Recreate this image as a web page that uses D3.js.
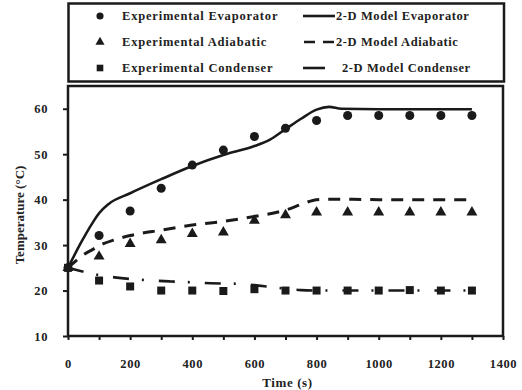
<!DOCTYPE html>
<html>
<head>
<meta charset="utf-8">
<script src="https://cdn.jsdelivr.net/npm/d3@7/dist/d3.min.js"></script>
<style>
  html, body { margin: 0; padding: 0; background: #fff; }
  svg { display: block; }
  text { font-family: "Liberation Serif", "Times New Roman", serif; font-weight: bold; fill: #222; }
</style>
</head>
<body>
<svg id="chart" width="522" height="390"></svg>
<script>
// Measured times (s)
const expTime = [0, 100, 200, 300, 400, 500, 600, 700, 800, 900, 1000, 1100, 1200, 1300];
// Experimental temperatures (°C)
const expEvaporator = [25, 32.1, 37.5, 42.5, 47.6, 50.9, 53.9, 55.7, 57.4, 58.5, 58.5, 58.5, 58.5, 58.5];
const expAdiabatic  = [25, 27.5, 30.3, 31.1, 32.5, 32.8, 35.4, 36.6, 37.2, 37.2, 37.2, 37.2, 37.2, 37.2];
const expCondenser  = [25, 22.2, 20.9, 20.0, 20.0, 19.9, 20.3, 20.0, 20.0, 20.0, 20.0, 20.1, 20.0, 20.0];

// 2-D model curves (time, temperature)
const modelEvapTime = [0, 40, 80, 100, 130, 200, 300, 400, 500, 600, 650, 700, 750, 800, 840, 880, 1000, 1300];
const modelEvapTemp = [25, 30.3, 35, 37, 39, 41.4, 44.5, 47.4, 49.8, 51.8, 53.2, 55.5, 57.8, 59.8, 60.4, 60.0, 59.9, 59.9];
const modelAdiaTime = [0, 30, 55, 76, 114, 146, 200, 300, 400, 500, 600, 700, 760, 800, 850, 1000, 1300];
const modelAdiaTemp = [25, 26.8, 28.1, 28.9, 30.3, 31.1, 32.1, 33.3, 34.4, 35.2, 36.3, 37.7, 39.2, 40.0, 40.1, 40.0, 40.0];
const modelCondTime = [0, 40, 70, 100, 150, 250, 330, 400, 460, 545, 600, 650, 700, 750, 800, 1000, 1300];
const modelCondTemp = [25, 24.3, 23.8, 23.4, 22.9, 22.3, 22.0, 21.8, 21.6, 21.5, 21.2, 20.8, 20.4, 20.1, 20.0, 20.0, 20.0];

// Axis ticks
const xTickValues = [0, 200, 400, 600, 800, 1000, 1200, 1400];
const xMinorTicks = [100, 300, 500, 700, 900, 1100, 1300];
const yTickValues = [10, 20, 30, 40, 50, 60];

// Legend entries
const legendMarkers = ["Experimental Evaporator", "Experimental Adiabatic", "Experimental Condenser"];
const legendLines = ["2-D Model Evaporator", "2-D Model Adiabatic", "2-D Model Condenser"];

const svg = d3.select("#chart");
const ink = "#1a1a1a";

const plot = { left: 68, right: 503, top: 86, bottom: 336 };
const x = d3.scaleLinear().domain([0, 1400]).range([plot.left, plot.right]);
const y = d3.scaleLinear().domain([10, 65]).range([plot.bottom, plot.top]);

// Legend box
svg.append("rect")
  .attr("x", 68.5).attr("y", 3.5).attr("width", 435.5).attr("height", 78)
  .attr("fill", "#fff").attr("stroke", ink).attr("stroke-width", 2.5);

// Plot frame
svg.append("rect")
  .attr("x", plot.left).attr("y", plot.top)
  .attr("width", plot.right - plot.left).attr("height", plot.bottom - plot.top)
  .attr("fill", "none").attr("stroke", ink).attr("stroke-width", 2.5);

// Axes
const xAxis = d3.axisBottom(x).tickValues(xTickValues).tickSize(4).tickPadding(19).tickFormat(d3.format("d"));
svg.append("g").attr("transform", `translate(0,${plot.bottom})`).call(xAxis);
svg.append("g").attr("transform", `translate(0,${plot.bottom})`)
  .call(d3.axisBottom(x).tickValues(xMinorTicks).tickSize(4).tickFormat(""));

const yAxis = d3.axisLeft(y).tickValues(yTickValues).tickSize(5).tickPadding(15).tickFormat(d3.format("d"));
svg.append("g").attr("transform", `translate(${plot.left},0)`).call(yAxis);

svg.selectAll(".domain").remove();
svg.selectAll(".tick line").attr("stroke", ink).attr("stroke-width", 2);
svg.selectAll(".tick text").attr("font-size", 12.5).attr("fill", "#444")
  .style("letter-spacing", "0.6px")
  .style("font-family", "Liberation Serif, serif").style("font-weight", "bold");

// Axis titles
svg.append("text")
  .attr("x", (plot.left + plot.right) / 2 + 2).attr("y", 387)
  .attr("text-anchor", "middle").attr("font-size", 13).style("letter-spacing", "0.6px").text("Time (s)");
svg.append("text")
  .attr("transform", `translate(24,215) rotate(-90)`)
  .attr("text-anchor", "middle").attr("font-size", 13).text("Temperature (°C)");

// Model curves
const line = d3.line().curve(d3.curveMonotoneX).x(d => x(d[0])).y(d => y(d[1]));
const models = [
  { t: modelEvapTime, v: modelEvapTemp, dash: null, w: 2.6 },
  { t: modelAdiaTime, v: modelAdiaTemp, dash: "12,9", w: 3 },
  { t: modelCondTime, v: modelCondTemp, dash: "16,13,2,15", w: 2.6 }
];
models.forEach(m => {
  svg.append("path")
    .datum(d3.zip(m.t, m.v))
    .attr("d", line)
    .attr("fill", "none")
    .attr("stroke", ink)
    .attr("stroke-width", m.w)
    .attr("stroke-dasharray", m.dash);
});

// Experimental markers
const circleSym = d3.symbol().type(d3.symbolCircle).size(64);
const triSym = d3.symbol().type(d3.symbolTriangle).size(52);
const sqSym = d3.symbol().type(d3.symbolSquare).size(64);
const series = [
  { v: expEvaporator, sym: circleSym },
  { v: expAdiabatic, sym: triSym },
  { v: expCondenser, sym: sqSym }
];
series.forEach(s => {
  svg.append("g").selectAll("path")
    .data(d3.zip(expTime, s.v))
    .join("path")
    .attr("d", s.sym)
    .attr("transform", d => `translate(${x(d[0])},${y(d[1])})`)
    .attr("fill", ink);
});

// Legend
const rows = [16, 42, 68];
const legSyms = [d3.symbol().type(d3.symbolCircle).size(40), d3.symbol().type(d3.symbolTriangle).size(36), d3.symbol().type(d3.symbolSquare).size(44)];
rows.forEach((ry, i) => {
  svg.append("path").attr("d", legSyms[i]).attr("transform", `translate(100,${ry})`).attr("fill", ink);
  svg.append("text").attr("x", 122).attr("y", ry + 4).attr("font-size", 12.5)
    .style("letter-spacing", "0.8px").text(legendMarkers[i]);
});
const legLine = [
  { x1: 303, x2: 335, dash: null, tx: 336 },
  { x1: 304, x2: 334, dash: "11,8", tx: 336 },
  { x1: 303, x2: 325, dash: null, tx: 342 }
];
rows.forEach((ry, i) => {
  const l = legLine[i];
  svg.append("line").attr("x1", l.x1).attr("x2", l.x2).attr("y1", ry).attr("y2", ry)
    .attr("stroke", ink).attr("stroke-width", 2.6).attr("stroke-dasharray", l.dash);
  svg.append("text").attr("x", l.tx).attr("y", ry + 4).attr("font-size", 12.5)
    .style("letter-spacing", "0.6px").text(legendLines[i]);
});
</script>
</body>
</html>
